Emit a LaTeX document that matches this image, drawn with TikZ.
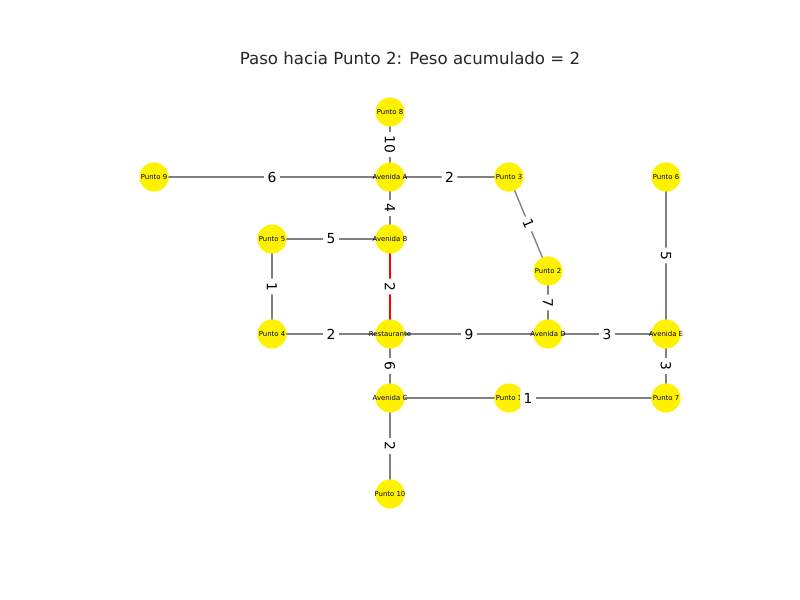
\documentclass[tikz,border=0pt]{standalone}
\usepackage{fontspec}
\setmainfont{DejaVu Sans}
\pgfdeclarelayer{bg}
\pgfdeclarelayer{fg}
\pgfsetlayers{bg,main,fg}
\newcommand\mkedge[5][0]{%
  \begin{pgfonlayer}{bg}\draw[#2] (#3.center) -- (#4.center);\end{pgfonlayer}%
  \begin{pgfonlayer}{fg}\path (#3.center) -- (#4.center) node[wlabel,midway,rotate=#1,name=l#3#4] {#5};\end{pgfonlayer}}
\newcommand\vt[1]{\makebox[0pt][c]{#1}}
\begin{document}
\begin{tikzpicture}[x=0.01in,y=-0.01in,
  vtx/.style={circle,fill=yellow,minimum size=21pt,inner sep=0pt,font=\fontsize{5}{6}\selectfont},
  plainedge/.style={draw=gray,line width=1pt},
  pathedge/.style={draw=red,line width=2pt},
  wlabel/.style={fill=white,rounded corners=2pt,inner sep=2.5pt,font=\fontsize{10}{12}\selectfont}]
\useasboundingbox (0,0) rectangle (800,600);
\node[font=\fontsize{12}{14}\selectfont,text=black!85] (title) at (410,58) {Paso hacia Punto 2: Peso acumulado = 2};
\node[vtx] (p8) at (390,112) {\vt{Punto 8}};
\node[vtx] (p9) at (154,177) {\vt{Punto 9}};
\node[vtx] (aa) at (390,177) {\vt{Avenida A}};
\node[vtx] (p3) at (509,177) {\vt{Punto 3}};
\node[vtx] (p6) at (666,177) {\vt{Punto 6}};
\node[vtx] (p5) at (272,239) {\vt{Punto 5}};
\node[vtx] (ab) at (390,239) {\vt{Avenida B}};
\node[vtx] (p2) at (548,271) {\vt{Punto 2}};
\node[vtx] (p4) at (272,334) {\vt{Punto 4}};
\node[vtx] (r) at (390,334) {\vt{Restaurante}};
\node[vtx] (ad) at (548,334) {\vt{Avenida D}};
\node[vtx] (ae) at (666,334) {\vt{Avenida E}};
\node[vtx] (ac) at (390,398) {\vt{Avenida C}};
\node[vtx] (p1) at (509,398) {\vt{Punto 1}};
\node[vtx] (p7) at (666,398) {\vt{Punto 7}};
\node[vtx] (p10) at (390,494) {\vt{Punto 10}};
\mkedge[-90]{plainedge}{p8}{aa}{10}
\mkedge{plainedge}{p9}{aa}{6}
\mkedge{plainedge}{aa}{p3}{2}
\mkedge[-90]{plainedge}{aa}{ab}{4}
\mkedge[-67.5]{plainedge}{p3}{p2}{1}
\mkedge[-90]{plainedge}{p6}{ae}{5}
\mkedge{plainedge}{p5}{ab}{5}
\mkedge[-90]{plainedge}{p5}{p4}{1}
\mkedge[-90]{pathedge}{ab}{r}{2}
\mkedge[-90]{plainedge}{p2}{ad}{7}
\mkedge{plainedge}{p4}{r}{2}
\mkedge{plainedge}{r}{ad}{9}
\mkedge{plainedge}{ad}{ae}{3}
\mkedge[-90]{plainedge}{r}{ac}{6}
\mkedge[-90]{plainedge}{ae}{p7}{3}
\mkedge{plainedge}{ac}{p7}{1}
\mkedge[-90]{plainedge}{ac}{p10}{2}
\end{tikzpicture}
\end{document}
